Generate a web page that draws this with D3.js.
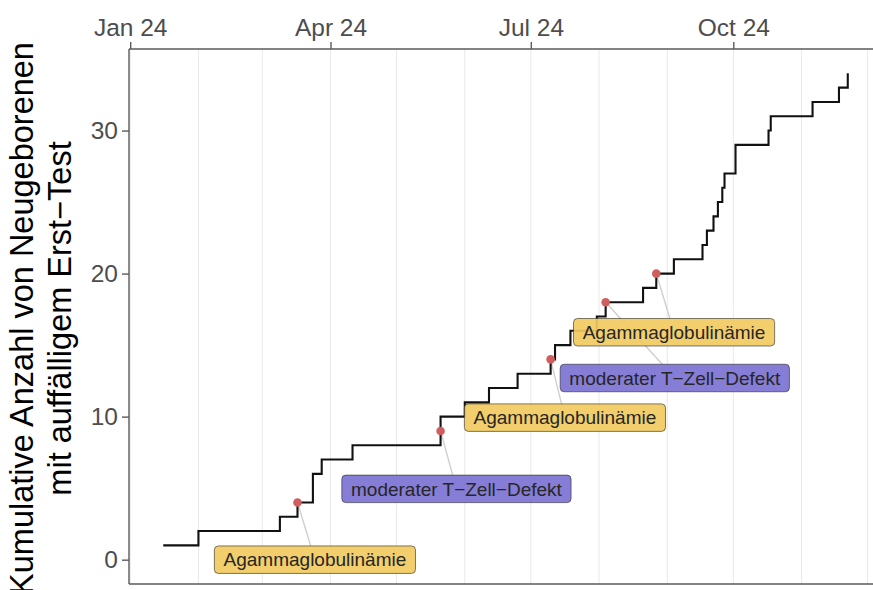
<!DOCTYPE html>
<html>
<head>
<meta charset="utf-8">
<script src="https://cdn.jsdelivr.net/npm/d3@7"></script>
<style>
  body { margin: 0; background: #ffffff; }
  svg { display: block; font-family: "Liberation Sans", Arial, Helvetica, sans-serif; }
</style>
</head>
<body>
<svg id="chart" width="873" height="590"></svg>
<script>
// Date of each abnormal first test and the running total after it
const testDates = [
  "2024-01-16", "2024-02-01", "2024-03-09", "2024-03-17", "2024-03-24", "2024-03-24",
  "2024-03-28", "2024-04-11", "2024-05-21", "2024-05-21", "2024-06-01", "2024-06-12",
  "2024-06-25", "2024-07-10", "2024-07-12", "2024-07-19", "2024-07-31", "2024-08-04",
  "2024-08-21", "2024-08-27", "2024-09-04", "2024-09-17", "2024-09-19", "2024-09-22",
  "2024-09-24", "2024-09-26", "2024-09-27", "2024-10-02", "2024-10-02", "2024-10-17",
  "2024-10-18", "2024-11-06", "2024-11-18", "2024-11-22"
];
const cumulativeCounts = [
  1, 2, 3, 4, 5, 6, 7, 8, 9, 10, 11, 12, 13, 14, 15, 16, 17,
  18, 19, 20, 21, 22, 23, 24, 25, 26, 27, 28, 29, 30, 31, 32, 33, 34
];

// Confirmed diagnoses among the positive cases
const confirmedDates = ["2024-03-17", "2024-05-21", "2024-07-10", "2024-08-04", "2024-08-27"];
const confirmedCounts = [4, 9, 14, 18, 20];
const confirmedDiagnoses = [
  "Agammaglobulinämie", "moderater T\u2212Zell\u2212Defekt", "Agammaglobulinämie",
  "moderater T\u2212Zell\u2212Defekt", "Agammaglobulinämie"
];
// Label centres (date, count) after repelling them away from the curve
const labelDates = ["2024-03-24T22:00", "2024-05-28T05:00", "2024-07-16T12:00", "2024-09-04T10:00", "2024-09-04T02:00"];
const labelCounts = [0, 4.95, 9.93, 12.7, 15.9];

const diagnosisColours = {
  "Agammaglobulinämie": "#f1cb60",
  "moderater T\u2212Zell\u2212Defekt": "#7b72d3"
};

const xTickDates = ["2024-01-01", "2024-04-01", "2024-07-01", "2024-10-01"];
const xTickLabels = ["Jan 24", "Apr 24", "Jul 24", "Oct 24"];
const yTicks = [0, 10, 20, 30];
const yTitleLines = ["Kumulative Anzahl von Neugeborenen", "mit auffälligem Erst\u2212Test"];

const parse = d3.isoParse;
const events = testDates.map((d, i) => ({ date: parse(d), n: cumulativeCounts[i] }));
const confirmed = confirmedDates.map((d, i) => ({
  date: parse(d), n: confirmedCounts[i], diagnosis: confirmedDiagnoses[i],
  labelDate: parse(labelDates[i]), labelN: labelCounts[i]
}));

const svg = d3.select("#chart");
const panel = { left: 129, right: 882, top: 49, bottom: 584 };

// 5% padding on both scales, y range anchored at zero
const xExt = d3.extent(events, d => d.date);
const xPad = (xExt[1] - xExt[0]) * 0.05;
const x = d3.scaleTime()
  .domain([new Date(+xExt[0] - xPad), new Date(+xExt[1] + xPad)])
  .range([panel.left, panel.right]);
const yMax = d3.max(events, d => d.n);
const y = d3.scaleLinear()
  .domain([-0.05 * yMax, yMax * 1.05])
  .range([panel.bottom, panel.top]);

// monthly vertical grid
const gridMonths = d3.timeMonth.range(new Date(2024, 0, 1), x.domain()[1]);
svg.append("g")
  .selectAll("line")
  .data(gridMonths)
  .join("line")
  .attr("x1", d => x(d)).attr("x2", d => x(d))
  .attr("y1", panel.top).attr("y2", panel.bottom)
  .attr("stroke", "#e9e9e9")
  .attr("stroke-width", 1);

// connectors from confirmed cases to their labels
const labelFont = 19;
const labelH = 27.5;
const padX = 9.2;
const measure = svg.append("text").attr("font-size", labelFont).attr("visibility", "hidden");
confirmed.forEach(c => {
  measure.text(c.diagnosis);
  c.w = measure.node().getComputedTextLength() + 2 * padX;
  c.cx = x(c.labelDate);
  c.cy = y(c.labelN);
  c.px = x(c.date);
  c.py = y(c.n);
  const dx = c.cx - c.px, dy = c.cy - c.py;
  const s = Math.min((c.w / 2) / Math.abs(dx || 1e-9), (labelH / 2) / Math.abs(dy || 1e-9));
  c.ex = c.cx - dx * s;
  c.ey = c.cy - dy * s;
});
measure.remove();

svg.append("g")
  .selectAll("line")
  .data(confirmed)
  .join("line")
  .attr("x1", d => d.px).attr("y1", d => d.py)
  .attr("x2", d => d.ex).attr("y2", d => d.ey)
  .attr("stroke", "#cfcfcf")
  .attr("stroke-width", 1.4);

// cumulative step curve
const step = d3.line()
  .x(d => x(d.date))
  .y(d => y(d.n))
  .curve(d3.curveStepAfter);
svg.append("path")
  .datum(events)
  .attr("d", step)
  .attr("fill", "none")
  .attr("stroke", "#111111")
  .attr("stroke-width", 2.1);

// confirmed cases
svg.append("g")
  .selectAll("circle")
  .data(confirmed)
  .join("circle")
  .attr("cx", d => d.px)
  .attr("cy", d => d.py)
  .attr("r", 4.3)
  .attr("fill", "#d15e5e");

// diagnosis labels
const labels = svg.append("g")
  .selectAll("g")
  .data(confirmed)
  .join("g")
  .attr("transform", d => `translate(${d.cx - d.w / 2},${d.cy - labelH / 2})`);
labels.append("rect")
  .attr("width", d => d.w)
  .attr("height", labelH)
  .attr("rx", 4).attr("ry", 4)
  .attr("fill", d => diagnosisColours[d.diagnosis])
  .attr("fill-opacity", 0.92)
  .attr("stroke", "rgba(40,40,40,0.6)")
  .attr("stroke-width", 1);
labels.append("text")
  .attr("x", d => d.w / 2)
  .attr("y", labelH / 2 + labelFont * 0.35)
  .attr("text-anchor", "middle")
  .attr("font-size", labelFont)
  .attr("fill", "#262626")
  .text(d => d.diagnosis);

// axes
const axisColour = "#5a5a5a";
const xAxis = d3.axisTop(x)
  .tickValues(xTickDates.map(parse))
  .tickFormat((d, i) => xTickLabels[i])
  .tickSize(7)
  .tickPadding(6);
const gx = svg.append("g")
  .attr("transform", `translate(0,${panel.top})`)
  .call(xAxis);
gx.select(".domain").attr("d", `M${panel.left},0H${panel.right}`);

const yAxis = d3.axisLeft(y)
  .tickValues(yTicks)
  .tickSize(7)
  .tickPadding(4);
const gy = svg.append("g")
  .attr("transform", `translate(${panel.left},0)`)
  .call(yAxis);
gy.select(".domain").attr("d", `M0,${panel.top}V${panel.bottom}`);

[gx, gy].forEach(g => {
  g.attr("font-family", null).attr("font-size", null);
  g.select(".domain").attr("stroke", axisColour).attr("stroke-width", 1.4);
  g.selectAll(".tick line").attr("stroke", axisColour).attr("stroke-width", 1.4);
  g.selectAll(".tick text").attr("fill", "#4d4d4d").style("font-size", "24.5px");
});

// bottom frame line
svg.append("line")
  .attr("x1", panel.left).attr("x2", panel.right)
  .attr("y1", panel.bottom).attr("y2", panel.bottom)
  .attr("stroke", axisColour)
  .attr("stroke-width", 1.4);

// y axis title
const midY = (panel.top + panel.bottom) / 2 + 2;
const title = svg.append("text")
  .attr("transform", "rotate(-90)")
  .attr("text-anchor", "middle")
  .attr("font-size", 32.5)
  .attr("fill", "#000000");
title.selectAll("tspan")
  .data(yTitleLines)
  .join("tspan")
  .attr("x", -midY)
  .attr("y", (d, i) => 33 + i * 37.5)
  .text(d => d);
</script>
</body>
</html>
